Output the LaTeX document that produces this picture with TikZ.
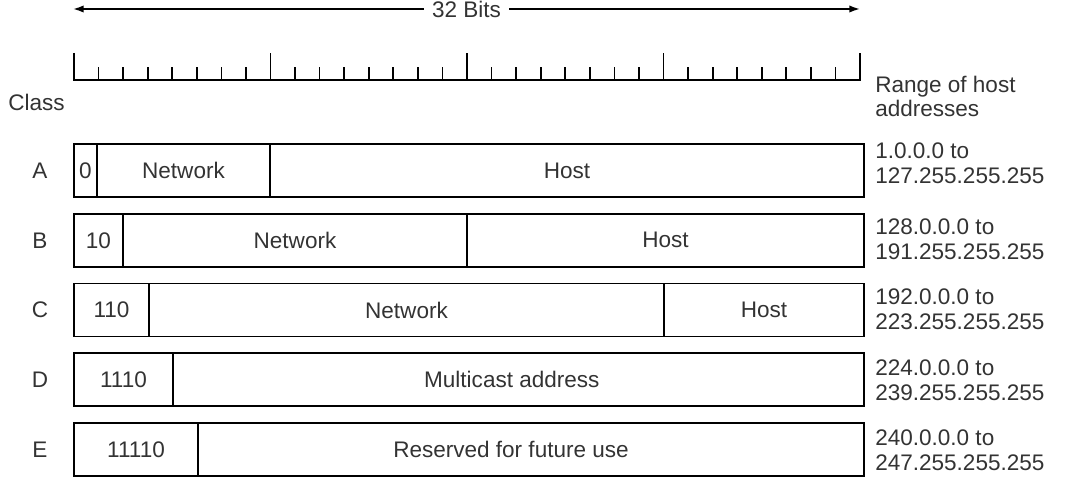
\documentclass[tikz,border=0pt]{standalone}
\usepackage{fontspec}
\setmainfont{Liberation Sans}
\usetikzlibrary{arrows.meta,positioning}

\tikzset{
  field/.style={draw,line width=1.3pt,minimum height=39.75pt,minimum width={#1*0.75pt},
    inner sep=0pt,outer sep=0pt,text=black!80},
  cls/.style={inner sep=0pt,text=black!80},
  rangetext/.style={anchor=west,align=left,inner sep=0pt,text=black!80},
  ruletick/.style={line width=1.3pt}
}

\begin{document}
\begin{tikzpicture}
    [x=0.75pt,y=-0.75pt,line cap=butt,font=\fontsize{16.9}{18.4}\selectfont]
\useasboundingbox (0,0) rectangle (1069,484);
%the 32 bit arrow
\coordinate (bitl) at (73,9);
\coordinate (bitr) at (860,9);
\draw[{Latex[length=8pt,width=5.5pt]}-{Latex[length=8pt,width=5.5pt]},line width=1.3pt] (bitl) -- (bitr)
   node[midway,fill=white,inner xsep=6pt,inner ysep=0pt,text=black!80] (bits) {32 Bits};

%the ruler with one tick per bit
\draw[ruletick] (74,53) -- (74,80) -- (860,80) -- (860,53);
\foreach \i in {1,...,31}{
  \pgfmathsetmacro\tl{mod(\i,8)==0 ? 27 : 13}
  \draw[ruletick] ({74+\i*24.5625},80) -- ++(0,-\tl);
}
\node[cls,anchor=base west] (class) at (8,111) {Class};
\node[rangetext] (rng) at (875,96.3) {Range of host\\addresses};

%class A
\node[cls] (clA) at (40,170.5) {A};
\node[field=23,anchor=west] (aid) at (74,170.5) {0};
\node[field=173,right=0pt of aid] (anet) {Network};
\node[field=594,right=0pt of anet] (ahost) {Host};
\node[rangetext] (rngA) at (875,163.5) {1.0.0.0 to\\127.255.255.255};

%class B
\node[cls] (clB) at (40,240.3) {B};
\node[field=49,anchor=west] (bid) at (74,240.3) {10};
\node[field=344,right=0pt of bid] (bnet) {Network};
\node[field=397,right=0pt of bnet] (bhost) {Host};
\node[rangetext] (rngB) at (875,239.5) {128.0.0.0 to\\191.255.255.255};

%class C
\node[cls] (clC) at (40,310) {C};
\node[field=75,anchor=west] (cid) at (74,310) {110};
\node[field=515,right=0pt of cid] (cnet) {Network};
\node[field=200,right=0pt of cnet] (chost) {Host};
\node[rangetext] (rngC) at (875,309) {192.0.0.0 to\\223.255.255.255};

%class D
\node[cls] (clD) at (40,379.8) {D};
\node[field=99,anchor=west] (did) at (74,379.8) {1110};
\node[field=691,right=0pt of did] (dmc) {};
\node[cls] (dtxt) at ([xshift=-5pt]dmc.center) {Multicast address};
\node[rangetext] (rngD) at (875,380.5) {224.0.0.0 to\\239.255.255.255};

%class E
\node[cls] (clE) at (40,449.5) {E};
\node[field=124,anchor=west] (eid) at (74,449.5) {11110};
\node[field=666,right=0pt of eid] (eres) {};
\node[cls] (etxt) at ([xshift=-15pt]eres.center) {Reserved for future use};
\node[rangetext] (rngE) at (875,450.5) {240.0.0.0 to\\247.255.255.255};
\end{tikzpicture}
\end{document}
